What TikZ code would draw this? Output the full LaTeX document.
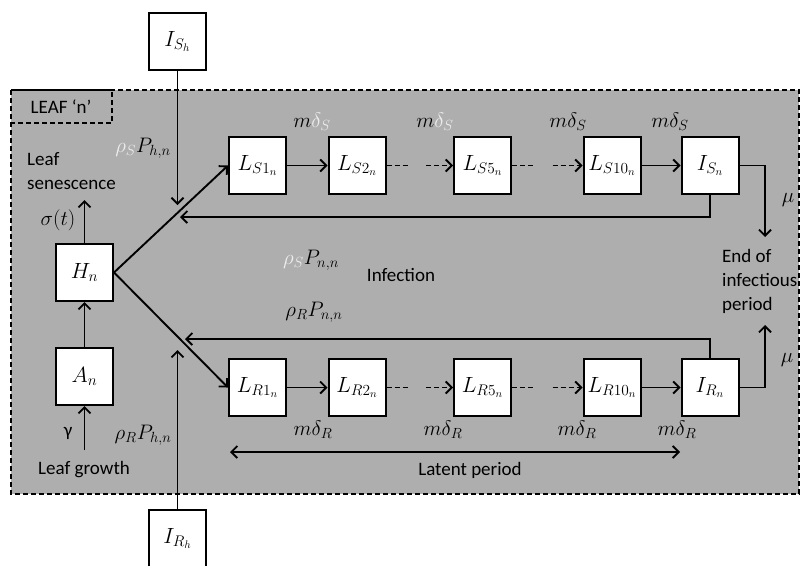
\RequirePackage{fix-cm}
\documentclass[tikz,border=0pt]{standalone}
\usepackage{fontspec}
\setmainfont{Carlito}
\usetikzlibrary{arrows.meta}
\definecolor{leafgray}{RGB}{174,174,174}
\definecolor{lightw}{RGB}{238,238,238}
\begin{document}
\begin{tikzpicture}[x=1pt,y=-1pt,
  box/.style={draw=black, fill=white, line width=2pt, minimum size=57pt, inner sep=0pt, font=\fontsize{22}{26}\selectfont},
  lbl/.style={font=\fontsize{19}{24}\selectfont, inner sep=0pt},
  mlbl/.style={font=\fontsize{21}{24}\selectfont, inner sep=0pt},
  arr/.style={line width=1.9pt, -{Straight Barb[length=6pt,width=12pt,line width=1.9pt]}},
  dsh/.style={line width=1.9pt, dash pattern=on 5pt off 3pt},
  border/.style={line width=1.5pt, dash pattern=on 5pt off 3pt}
]
\useasboundingbox (0,0) rectangle (805,565);
% leaf area
\fill[leafgray] (11,90) rectangle (799,494);
\draw[border] (11,90) rectangle (799,494);
\draw[border] (11,90) rectangle (112,123);
\node[lbl] (leaf) at (61,107) {LEAF ‘n’};

% boxes
\node[box] (Ish) at (177.5,41.5) {$I_{S_h}$};
\node[box] (Irh) at (177.5,538.5) {$I_{R_h}$};
\node[box] (H) at (84.5,272.5) {$H_n$};
\node[box] (A) at (84.5,376.5) {$A_n$};
\node[box] (LS1) at (257.5,165.5) {$L_{S1_n}$};
\node[box] (LS2) at (357,165.5) {$L_{S2_n}$};
\node[box] (LS5) at (482.5,165.5) {$L_{S5_n}$};
\node[box] (LS10) at (612,165.5) {$L_{S10_n}$};
\node[box] (IS) at (710,165.5) {$I_{S_n}$};
\node[box] (LR1) at (257.5,387.5) {$L_{R1_n}$};
\node[box] (LR2) at (357,387.5) {$L_{R2_n}$};
\node[box] (LR5) at (482.5,387.5) {$L_{R5_n}$};
\node[box] (LR10) at (612,387.5) {$L_{R10_n}$};
\node[box] (IR) at (710,387.5) {$I_{R_n}$};

% coordinates
\coordinate (sen) at (84.5,200);
\coordinate (grow) at (84.5,450);
\coordinate (ishT) at (177.5,205);
\coordinate (irhT) at (177.5,350);
\coordinate (fbS) at (180,217);
\coordinate (fbR) at (185,339);
\coordinate (endS) at (765,237);
\coordinate (endR) at (765,325);
\coordinate (latL) at (230,452);
\coordinate (latR) at (680,452);

% connectors
\draw[arr] (H.east) -- (LS1.west);
\draw[arr] (H.east) -- (LR1.west);
\draw[arr] (A) -- (H);
\draw[arr] (grow) -- (A);
\draw[arr] (H) -- (sen);
\draw[arr] (Ish) -- (ishT);
\draw[arr] (Irh) -- (irhT);
\draw[arr] (LS1) -- (LS2);
\draw[dsh] (LS2.east) -- ++(21,0);
\draw[dsh,arr] ([xshift=-27pt]LS5.west) -- (LS5.west);
\draw[dsh] (LS5.east) -- ++(21,0);
\draw[dsh,arr] ([xshift=-30pt]LS10.west) -- (LS10.west);
\draw[arr] (LS10) -- (IS);
\draw[arr] (LR1) -- (LR2);
\draw[dsh] (LR2.east) -- ++(21,0);
\draw[dsh,arr] ([xshift=-27pt]LR5.west) -- (LR5.west);
\draw[dsh] (LR5.east) -- ++(21,0);
\draw[dsh,arr] ([xshift=-30pt]LR10.west) -- (LR10.west);
\draw[arr] (LR10) -- (IR);
\draw[arr] (IS.south) |- (fbS);
\draw[arr] (IR.north) |- (fbR);
\draw[arr] (IS.east) -| (endS);
\draw[arr] (IR.east) -| (endR);
\draw[line width=1.9pt, {Straight Barb[length=6pt,width=12pt,line width=1.9pt]}-{Straight Barb[length=6pt,width=12pt,line width=1.9pt]}] (latL) -- (latR);

% labels
\node[lbl, align=left, anchor=west] (sent) at (27,171) {Leaf\\senescence};
\node[mlbl] (sig) at (58,220) {$\sigma(t)$};
\node[lbl] (gam) at (68,433) {γ};
\node[lbl] (growt) at (84,470) {Leaf growth};
\node[mlbl] (rsph) at (143,148) {$\textcolor{lightw}{\rho_S}P_{h,n}$};
\node[mlbl] (rrph) at (143,435) {$\rho_R P_{h,n}$};
\node[mlbl] (rspn) at (311,260) {$\textcolor{lightw}{\rho_S}P_{n,n}$};
\node[mlbl] (rrpn) at (314,312) {$\rho_R P_{n,n}$};
\node[lbl] (inf) at (401,275) {Infection};
\node[mlbl] (ms1) at (312,122) {$m\textcolor{lightw}{\delta_S}$};
\node[mlbl] (ms2) at (435,122) {$m\textcolor{lightw}{\delta_S}$};
\node[mlbl] (ms3) at (568,122) {$m\delta_S$};
\node[mlbl] (ms4) at (670,122) {$m\delta_S$};
\node[mlbl] (mr1) at (313,430) {$m\delta_R$};
\node[mlbl] (mr2) at (443,430) {$m\delta_R$};
\node[mlbl] (mr3) at (577,430) {$m\delta_R$};
\node[mlbl] (mr4) at (677,430) {$m\delta_R$};
\node[mlbl] (mu1) at (788,200) {$\mu$};
\node[mlbl] (mu2) at (787,360) {$\mu$};
\node[lbl, align=left, anchor=west] (endt) at (722,281) {End of\\infectious\\period};
\node[lbl] (lat) at (470,470) {Latent period};
\end{tikzpicture}
\end{document}
